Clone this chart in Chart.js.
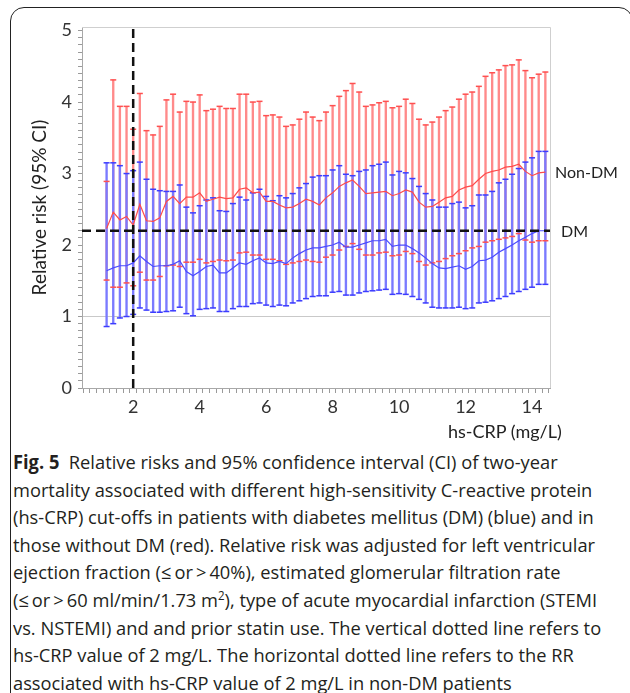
<!DOCTYPE html>
<html>
<head>
<meta charset="utf-8">
<script src="https://cdn.jsdelivr.net/npm/chart.js@4.4.1/dist/chart.umd.min.js"></script>
<style>
  html, body { margin: 0; padding: 0; background: #fff; }
  body { width: 630px; height: 693px; position: relative; overflow: hidden; font-family: Lato, sans-serif; }
  #frame { position: absolute; left: 10px; top: 7px; width: 623px; height: 720px; border: 1.5px solid #222; border-radius: 14px; box-sizing: border-box; }
  #chart { position: absolute; left: 0; top: 0; }
  .chart-label { position: absolute; font-size: 16px; color: #222; white-space: nowrap; line-height: 18px; }
  #caption { position: absolute; left: 13px; top: 449px; font-family: "Open Sans", sans-serif; font-size: 19px; line-height: 27.6px; color: #231f20; }
  #caption div { white-space: nowrap; transform-origin: 0 50%; width: max-content; }
</style>
</head>
<body>
<div id="frame"></div>
<canvas id="chart" width="630" height="442"></canvas>
<div class="chart-label" style="left:555px; top:163px;">Non-DM</div>
<div class="chart-label" style="left:561px; top:222px;">DM</div>
<div class="chart-label" style="left:448px; top:421px; font-size:18px; line-height:20px;">hs-CRP (mg/L)</div>
<div id="caption">
  <div><b>Fig. 5</b>&nbsp; Relative risks and 95% confidence interval (CI) of two-year</div>
  <div>mortality associated with different high-sensitivity C-reactive protein</div>
  <div>(hs-CRP) cut-offs in patients with diabetes mellitus (DM) (blue) and in</div>
  <div>those without DM (red). Relative risk was adjusted for left ventricular</div>
  <div>ejection fraction (≤&#8201;or&#8201;&gt;&#8201;40%), estimated glomerular filtration rate</div>
  <div>(≤&#8201;or&#8201;&gt;&#8201;60 ml/min/1.73 m<sup style="font-size:12px;line-height:0">2</sup>), type of acute myocardial infarction (STEMI</div>
  <div>vs. NSTEMI) and and prior statin use. The vertical dotted line refers to</div>
  <div>hs-CRP value of 2 mg/L. The horizontal dotted line refers to the RR</div>
  <div>associated with hs-CRP value of 2 mg/L in non-DM patients</div>
</div>
<script>
// hs-CRP cut-offs (mg/L)
const hsCrp = [1.2, 1.4, 1.6, 1.8, 2.0, 2.2, 2.4, 2.6, 2.8, 3.0, 3.2, 3.4, 3.6, 3.8, 4.0, 4.2, 4.4, 4.6, 4.8, 5.0,
    5.2, 5.4, 5.6, 5.8, 6.0, 6.2, 6.4, 6.6, 6.8, 7.0, 7.2, 7.4, 7.6, 7.8, 8.0, 8.2, 8.4, 8.6, 8.8, 9.0,
    9.2, 9.4, 9.6, 9.8, 10.0, 10.2, 10.4, 10.6, 10.8, 11.0, 11.2, 11.4, 11.6, 11.8, 12.0, 12.2, 12.4, 12.6, 12.8, 13.0,
    13.2, 13.4, 13.6, 13.8, 14.0, 14.2, 14.4];

// non-DM (red)
const nonDmRR = [2.23, 2.46, 2.35, 2.40, 2.28, 2.57, 2.34, 2.33, 2.38, 2.61,
    2.68, 2.58, 2.67, 2.67, 2.73, 2.61, 2.64, 2.67, 2.65, 2.66,
    2.78, 2.80, 2.73, 2.74, 2.61, 2.61, 2.56, 2.52, 2.53, 2.58,
    2.64, 2.61, 2.56, 2.66, 2.73, 2.82, 2.87, 2.91, 2.82, 2.72,
    2.73, 2.74, 2.75, 2.69, 2.72, 2.77, 2.74, 2.60, 2.53, 2.54,
    2.60, 2.66, 2.68, 2.77, 2.81, 2.83, 2.92, 3.00, 3.03, 3.05,
    3.09, 3.10, 3.13, 3.03, 2.97, 3.01, 3.02];
const nonDmLow = [1.51, 1.41, 1.41, 1.47, 1.43, 1.62, 1.51, 1.51, 1.56, 1.71,
    1.72, 1.70, 1.76, 1.76, 1.80, 1.75, 1.77, 1.79, 1.78, 1.79,
    1.89, 1.90, 1.86, 1.86, 1.80, 1.80, 1.78, 1.73, 1.75, 1.77,
    1.79, 1.77, 1.76, 1.83, 1.86, 1.93, 1.98, 2.02, 1.94, 1.86,
    1.86, 1.89, 1.90, 1.85, 1.86, 1.91, 1.88, 1.77, 1.72, 1.75,
    1.77, 1.81, 1.85, 1.88, 1.92, 1.96, 1.98, 2.04, 2.06, 2.08,
    2.10, 2.12, 2.16, 2.07, 2.04, 2.06, 2.06];
const nonDmHigh = [2.89, 4.31, 3.94, 3.94, 3.62, 4.12, 3.60, 3.54, 3.66, 4.03,
    4.11, 3.86, 4.01, 4.00, 4.10, 3.88, 3.90, 3.94, 3.91, 3.91,
    4.11, 4.11, 4.00, 4.01, 3.81, 3.82, 3.79, 3.66, 3.68, 3.76,
    3.86, 3.79, 3.74, 3.86, 3.95, 4.08, 4.16, 4.26, 4.14, 3.94,
    3.96, 3.99, 4.01, 3.92, 3.94, 4.04, 3.98, 3.76, 3.68, 3.72,
    3.79, 3.88, 3.93, 4.04, 4.11, 4.14, 4.22, 4.36, 4.41, 4.45,
    4.51, 4.52, 4.59, 4.44, 4.34, 4.39, 4.42];

// DM (blue)
const dmRR = [1.64, 1.68, 1.71, 1.71, 1.75, 1.85, 1.77, 1.70, 1.71, 1.71,
    1.73, 1.78, 1.63, 1.57, 1.63, 1.70, 1.72, 1.61, 1.61, 1.68,
    1.75, 1.73, 1.78, 1.82, 1.75, 1.74, 1.77, 1.74, 1.82, 1.88,
    1.93, 1.96, 1.96, 1.98, 2.00, 2.04, 1.97, 1.97, 2.00, 2.03,
    2.06, 2.06, 2.08, 1.98, 2.00, 2.00, 1.95, 1.89, 1.82, 1.74,
    1.68, 1.67, 1.69, 1.71, 1.66, 1.70, 1.78, 1.79, 1.83, 1.90,
    1.95, 2.00, 2.06, 2.11, 2.16, 2.20, 2.20];
const dmLow = [0.86, 0.90, 0.98, 1.00, 1.03, 1.12, 1.09, 1.06, 1.06, 1.07,
    1.08, 1.13, 1.04, 1.01, 1.10, 1.11, 1.12, 1.07, 1.07, 1.11,
    1.14, 1.14, 1.18, 1.19, 1.16, 1.14, 1.16, 1.15, 1.19, 1.22,
    1.25, 1.28, 1.29, 1.29, 1.34, 1.35, 1.30, 1.30, 1.33, 1.35,
    1.36, 1.37, 1.38, 1.31, 1.32, 1.31, 1.28, 1.24, 1.19, 1.13,
    1.12, 1.12, 1.12, 1.13, 1.11, 1.12, 1.19, 1.20, 1.22, 1.25,
    1.28, 1.32, 1.35, 1.38, 1.41, 1.45, 1.45];
const dmHigh = [3.15, 3.15, 3.11, 3.00, 3.04, 3.16, 2.92, 2.78, 2.76, 2.75,
    2.75, 2.84, 2.53, 2.45, 2.55, 2.63, 2.66, 2.48, 2.47, 2.58,
    2.67, 2.63, 2.73, 2.78, 2.68, 2.62, 2.69, 2.66, 2.72, 2.80,
    2.86, 2.95, 2.97, 2.97, 3.05, 3.11, 2.99, 2.97, 3.03, 3.05,
    3.11, 3.13, 3.16, 2.98, 3.03, 3.01, 2.93, 2.82, 2.72, 2.63,
    2.53, 2.53, 2.58, 2.60, 2.52, 2.55, 2.70, 2.70, 2.75, 2.87,
    2.92, 2.99, 3.07, 3.16, 3.22, 3.31, 3.31];

const xTickLabels = [2, 4, 6, 8, 10, 12, 14];
const yTickLabels = [0, 1, 2, 3, 4, 5];
const refCrp = 2;    // vertical dotted line
const refRR = 2.2;   // horizontal dotted line, RR at hs-CRP 2 mg/L (non-DM)
const xRange = [0.46, 14.54];
const yRange = [0, 5.05];

// approximate caption line widths in the figure, used for one common squeeze
const captionWidths = [563, 592, 590, 585, 506, 603, 591, 531, 505];

Chart.defaults.font.family = 'Lato, sans-serif';

const points = (vals) => hsCrp.map((x, i) => ({ x: x, y: vals[i] }));
const ciBars = (lo, hi) => hsCrp.map((x, i) => ({ x: x, y: [lo[i], hi[i]] }));
const isOneOf = (list, v) => list.some(t => Math.abs(t - v) < 1e-6);

const plotFrame = {
    id: 'plotFrame',
    beforeDatasetsDraw(chart) {
        const { ctx, chartArea: a } = chart;
        ctx.save();
        ctx.strokeStyle = '#cfcfcf';
        ctx.lineWidth = 1;
        ctx.beginPath();
        ctx.moveTo(a.left, a.top + 0.5);
        ctx.lineTo(a.right + 0.5, a.top + 0.5);
        ctx.lineTo(a.right + 0.5, a.bottom);
        ctx.stroke();
        ctx.restore();
    }
};

const ctx = document.getElementById('chart').getContext('2d');
new Chart(ctx, {
    type: 'bar',
    data: {
        datasets: [
            {
                type: 'line', label: 'hs-CRP 2 mg/L',
                data: [{ x: refCrp, y: yRange[0] }, { x: refCrp, y: yRange[1] }],
                borderColor: '#111', borderWidth: 2.5, borderDash: [9, 5], pointRadius: 0, order: 0
            },
            {
                type: 'line', label: 'RR non-DM at 2 mg/L',
                data: [{ x: xRange[0], y: refRR }, { x: xRange[1], y: refRR }],
                borderColor: '#111', borderWidth: 2.5, borderDash: [9, 5], pointRadius: 0, order: 0
            },
            {
                type: 'line', label: 'Non-DM',
                data: points(nonDmRR),
                borderColor: '#ff4a4a', borderWidth: 1.2, pointRadius: 0, tension: 0, order: 1
            },
            {
                type: 'line', label: 'DM',
                data: points(dmRR),
                borderColor: '#4a4aff', borderWidth: 1.2, pointRadius: 0, tension: 0, order: 1
            },
            {
                type: 'scatter', label: 'Non-DM CI caps',
                data: points(nonDmLow).concat(points(nonDmHigh)),
                pointStyle: 'line', pointRadius: 3, borderColor: '#ff5050', borderWidth: 1.5, order: 2
            },
            {
                type: 'scatter', label: 'DM CI caps',
                data: points(dmLow).concat(points(dmHigh)),
                pointStyle: 'line', pointRadius: 3, borderColor: '#3c3cff', borderWidth: 1.5, order: 2
            },
            {
                type: 'bar', label: 'DM 95% CI',
                data: ciBars(dmLow, dmHigh),
                backgroundColor: '#7a7aff', barThickness: 1.7, grouped: false, order: 3
            },
            {
                type: 'bar', label: 'Non-DM 95% CI',
                data: ciBars(nonDmLow, nonDmHigh),
                backgroundColor: '#ff8a8a', barThickness: 1.7, grouped: false, order: 4
            }
        ]
    },
    options: {
        responsive: false,
        animation: false,
        devicePixelRatio: 1,
        layout: { padding: { top: 27, right: 80, bottom: 0, left: 0 } },
        plugins: { legend: { display: false }, tooltip: { enabled: false } },
        scales: {
            x: {
                type: 'linear', min: xRange[0], max: xRange[1], offset: false,
                afterFit: (s) => { s.height = 54; },
                ticks: {
                    stepSize: 0.2, includeBounds: false, autoSkip: false, maxRotation: 0,
                    padding: 3, color: '#333', font: { size: 18 },
                    callback: (v) => isOneOf(xTickLabels, v) ? String(Math.round(v)) : ''
                },
                grid: { drawOnChartArea: false, tickColor: '#9a9a9a', tickLength: 5 },
                border: { color: '#a8a8a8', width: 1 },
                title: { display: false }
            },
            y: {
                min: yRange[0], max: yRange[1],
                afterFit: (s) => { s.width = 82; },
                ticks: {
                    stepSize: 0.1, includeBounds: false, autoSkip: false,
                    padding: 6, color: '#333', font: { size: 18 },
                    callback: (v) => isOneOf(yTickLabels, v) ? String(Math.round(v)) : ''
                },
                grid: {
                    color: (c) => (c.tick && Math.abs(c.tick.value - 1) < 1e-6) ? '#c9c9c9' : 'rgba(0,0,0,0)',
                    tickColor: '#9a9a9a', tickLength: 4
                },
                border: { color: '#a8a8a8', width: 1 },
                title: {
                    display: true, text: 'Relative risk (95% CI)', color: '#222',
                    font: { size: 19 }, padding: { top: 28, bottom: 0 }
                }
            }
        }
    },
    plugins: [plotFrame]
});

// one horizontal squeeze for the whole caption so every line keeps the same glyph size
const lines = Array.from(document.querySelectorAll('#caption div'));
const natural = lines.reduce((s, l) => s + l.getBoundingClientRect().width, 0);
const target = captionWidths.reduce((s, w) => s + w, 0);
lines.forEach(l => { l.style.transform = `scaleX(${target / natural})`; });
</script>
</body>
</html>
